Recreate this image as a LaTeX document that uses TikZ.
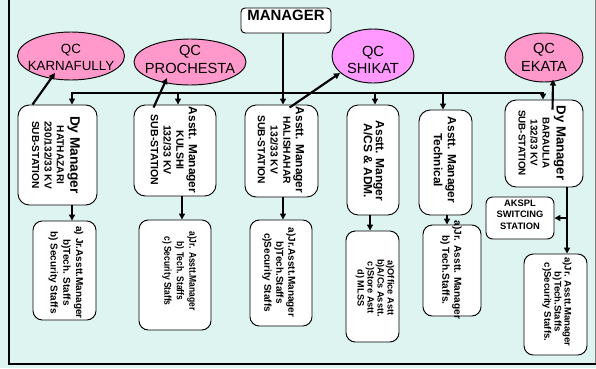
\documentclass[tikz,border=0pt]{standalone}
\usepackage{fontspec}
\setmainfont{Liberation Sans}
\newfontfamily\condfont[FakeStretch=0.85]{Liberation Sans}
\usetikzlibrary{shapes.geometric,arrows.meta,fit,calc}
\definecolor{bgc}{RGB}{221,244,240}
\definecolor{pinkqc}{RGB}{255,153,204}
\definecolor{magqc}{RGB}{255,153,255}
\newcommand{\fs}[2]{\fontsize{#1}{#2}\selectfont}
\begin{document}
\begin{tikzpicture}[x=0.75pt,y=-0.75pt,
  box/.style={draw=black, fill=white, rounded corners=8.5pt, line width=0.7pt, inner sep=0pt},
  sbox/.style={box, rounded corners=7pt},
  qc/.style={draw=black, ellipse, line width=0.7pt, inner sep=0pt},
  wire/.style={line width=1.6pt},
  arr/.style={line width=1.6pt, -{Triangle[length=4.5pt,width=4.5pt]}},
  rot/.style={rotate=-90, align=center, inner sep=0pt},
  qctext/.style={align=center, inner sep=0pt}]
\useasboundingbox (0,0) rectangle (596,368);
\fill[bgc] (0,0) rectangle (596,368);
\draw[line width=0.6pt, gray] (595.5,0) -- (595.5,364);
\draw[line width=2.2pt] (9,0) -- (9,364) -- (596,364);

% manager
\node[box, rounded corners=3pt, fit={(241,8)(331,33)}, font=\bfseries\fs{11.2}{13}] (m) {MANAGER};

% QC ellipses
\node[qc, fill=pinkqc, minimum width=80.25pt, minimum height=36pt] (qk) at (71,56) {};
\node[qctext, font=\fs{10}{12.75}] (qkt) at (71,57.5) {QC\\KARNAFULLY};
\node[qc, fill=pinkqc, minimum width=84pt, minimum height=34.5pt] (qp) at (190,62) {};
\node[qctext, font=\fs{11}{14}] (qpt) at (190,59.5) {QC\\PROCHESTA};
\node[qc, fill=magqc, minimum width=61.5pt, minimum height=40.5pt] (qs) at (373,56) {};
\node[qctext, font=\fs{11}{12.75}] (qst) at (373,59.5) {QC\\SHIKAT};
\node[qc, fill=pinkqc, minimum width=58.5pt, minimum height=36.75pt] (qe) at (544,57.5) {};
\node[qctext, font=\fs{11}{13}] (qet) at (544,57.5) {QC\\EKATA};

% row 1 boxes
\node[box, fit={(18,105)(97,205)}] (b1) {};
\node[box, fit={(134,105)(216,196)}] (b2) {};
\node[box, fit={(245,105)(318,197)}] (b3) {};
\node[box, fit={(347,105)(399,215)}] (b4) {};
\node[box, fit={(419,110)(472,215)}] (b5) {};
\node[box, fit={(505,100)(583,187)}] (b6) {};

\node[rot, font=\bfseries\fs{7.6}{9.3}] (t1) at (56,155)
  {{\fs{10.3}{12}Dy Manager}\\[0.8pt]HATHAZARI\\230/132/33 KV\\SUB-STATION};
\node[rot, font=\bfseries\fs{7.9}{9.5}] (t2) at (174,150)
  {{\fs{8.9}{10}Asstt. Manager}\\KULSHI\\132/33 KV\\SUB-STATION};
\node[rot, font=\bfseries\fs{7.7}{9.5}] (t3) at (281,150)
  {{\fs{8.9}{10}Asstt. Manager}\\HALISHAHAR\\132/33 KV\\SUB-STATION};
\node[rot, font=\bfseries\fs{9}{9}] (t4) at (374,161)
  {Asstt. Manger\\A/CS \& ADM.};
\node[rot, font=\bfseries\fs{8.9}{10.5}] (t5) at (445,160)
  {Asstt. Manager\\Technical};
\node[rot, font=\bfseries\fs{7.4}{9}] (t6) at (542,143)
  {{\fs{9.9}{12}Dy Manager}\\[1.5pt]BARAULIA\\132/33 KV\\SUB-STATION};

% staff boxes
\node[sbox, fit={(33,221)(96,320)}] (sb1) {};
\node[sbox, fit={(139,220)(211,330)}] (sb2) {};
\node[sbox, fit={(250,220)(312,326)}] (sb3) {};
\node[sbox, fit={(346,231)(399,342)}] (sb4) {};
\node[sbox, fit={(423,225)(481,316)}] (sb5) {};
\node[sbox, fit={(524,254)(587,355)}] (sb6) {};
\node[box, rounded corners=5pt, fit={(486,197)(554,239)}, align=center, font=\bfseries\fs{7}{8.6}] (ak) {AKSPL\\SWITCING\\STATION};

\node[rot, font=\bfseries\fs{7.5}{9.6}] (s1) at (66,272.5)
  {a) Jr.Asstt.Manager\\b)Tech. Staffs\\b) Security Staffs};
\node[rot, font=\condfont\bfseries\fs{7.5}{9.4}] (s2) at (179.5,271)
  {a)Jr. Asstt.Manager\\b) Tech. Staffs\\c) Security Staffs};
\node[rot, font=\bfseries\fs{7.5}{9}] (s3) at (279,272.5)
  {a)Jr.Asstt.Manager\\b)Tech.Staffs\\c)Security Staffs};
\node[rot, font=\bfseries\fs{6.9}{7.5}] (s4) at (375,288)
  {a)Office Astt\\b)A/Cs Asstt.\\c)Store Astt\\d) MLSS};
\node[rot, font=\bfseries\fs{7.6}{9}] (s5) at (451,270)
  {a)Jr. Asstt. Manager\\b) Tech.Staffs.};
\node[rot, font=\bfseries\fs{7.2}{7.6}] (s6) at (557,302)
  {a)Jr. Asstt.Manager\\b)Tech.Staffs\\c)Security Staffs.};

% bus and drops
\coordinate (busL) at (72,93);
\coordinate (busR) at (543,93);
\coordinate (d2) at (178,93);
\coordinate (d4) at (375,93);
\coordinate (d5) at (443,93);
\draw[wire, {Triangle[length=4.5pt,width=4.5pt]}-{Triangle[length=4.5pt,width=4.5pt]}]
  (busL |- b1.north) -- (busL) -- (busR) -- (busR |- b6.north);
\draw[arr] (d2) -- (d2 |- b2.north);
\draw[arr] (d4) -- (d4 |- b4.north);
\draw[arr] (d5) -- (d5 |- b5.north);
\draw[arr] ([xshift=-2.25pt]m.south) -- ([xshift=-2.25pt]m.south |- b3.north);

% down to staff
\coordinate (c1) at (72,0);
\coordinate (c2) at (182,0);
\coordinate (c3) at (283,0);
\coordinate (c4) at (370,0);
\coordinate (c5) at (447,0);
\coordinate (c6) at (567,0);
\draw[arr] (c1 |- b1.south) -- (c1 |- sb1.north);
\draw[arr] (c2 |- b2.south) -- (c2 |- sb2.north);
\draw[arr] (c3 |- b3.south) -- (c3 |- sb3.north);
\draw[arr] (c4 |- b4.south) -- (c4 |- sb4.north);
\draw[arr] (c5 |- b5.south) -- (c5 |- sb5.north);
\draw[arr] (c6 |- b6.south) -- (c6 |- sb6.north);
\draw[arr] (c6 |- ak.east) -- (ak.east);

% QC links
\draw[arr] ($(b1.north west)+(15,0)$) -- ($(qk.center)+(-16,17)$);
\draw[arr] ($(b2.north west)+(20,3)$) -- ($(qp.center)+(-23,16)$);
\draw[arr] ($(b3.north west)+(45,3)$) -- ($(qs.center)+(-33,17)$);
\draw[arr] ($(b6.north west)+(48,10)$) -- ($(qe.center)+(9,22)$);
\end{tikzpicture}
\end{document}
